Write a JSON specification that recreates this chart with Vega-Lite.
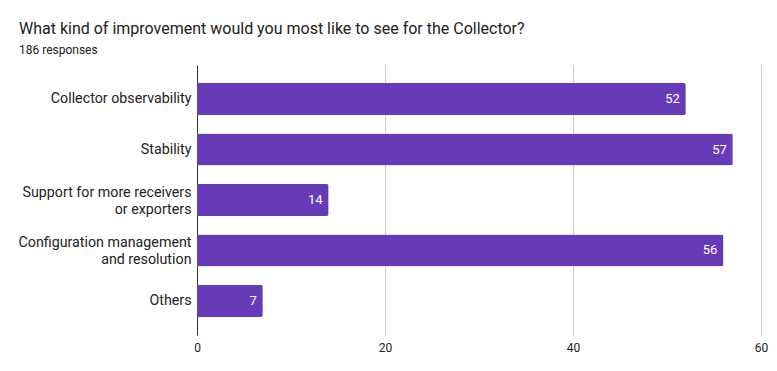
{
  "$schema": "https://vega.github.io/schema/vega-lite/v6.json",
  "width": 564,
  "height": 270,
  "autosize": {"type": "none"},
  "padding": {"left": 197, "top": 65, "right": 16, "bottom": 36},
  "background": "white",
  "title": {
    "text": "What kind of improvement would you most like to see for the Collector?",
    "subtitle": "186 responses",
    "anchor": "start",
    "frame": "group",
    "dx": -178,
    "offset": 9,
    "font": "Roboto",
    "fontSize": 16,
    "fontWeight": "normal",
    "color": "#212121",
    "subtitleFont": "Roboto",
    "subtitleFontSize": 12,
    "subtitleColor": "#212121",
    "subtitlePadding": 8
  },
  "data": {
    "values": [
      {"category": "Collector observability", "count": 52},
      {"category": "Stability", "count": 57},
      {"category": "Support for more receivers|or exporters", "count": 14},
      {"category": "Configuration management|and resolution", "count": 56},
      {"category": "Others", "count": 7}
    ]
  },
  "encoding": {
    "y": {
      "field": "category",
      "type": "nominal",
      "sort": null,
      "scale": {"paddingInner": 0.366, "paddingOuter": 0.358},
      "axis": {
        "title": null,
        "labelExpr": "split(datum.value, '|')",
        "labelOffset": {"condition": {"test": "indexof(datum.value, '|') >= 0", "value": -7}, "value": 0},
        "labelFont": "Roboto",
        "labelFontSize": 14.25,
        "labelColor": "#222222",
        "labelLineHeight": 17,
        "labelPadding": 6,
        "ticks": false,
        "domainColor": "#333333",
        "domainWidth": 1,
        "labelLimit": 300
      }
    },
    "x": {
      "field": "count",
      "type": "quantitative",
      "scale": {"domain": [0, 60], "nice": false},
      "axis": {
        "title": null,
        "values": [0, 20, 40, 60],
        "ticks": false,
        "domain": false,
        "grid": true,
        "gridColor": "#cccccc",
        "labelFlush": false,
        "labelFont": "Roboto",
        "labelFontSize": 12,
        "labelColor": "#222222",
        "labelPadding": 7
      }
    }
  },
  "layer": [
    {
      "mark": {"type": "bar", "color": "#673ab7", "cornerRadiusEnd": 2}
    },
    {
      "mark": {"type": "text", "align": "right", "dx": -6, "color": "white", "font": "Roboto", "fontSize": 13},
      "encoding": {"text": {"field": "count", "type": "quantitative"}}
    }
  ],
  "config": {"view": {"stroke": null}}
}
